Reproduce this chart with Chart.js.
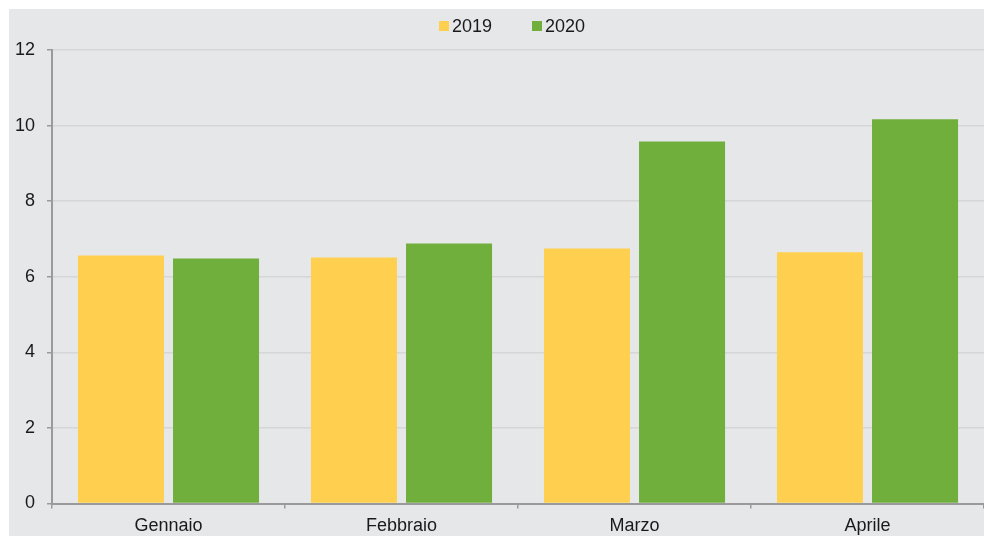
<!DOCTYPE html>
<html>
<head>
<meta charset="utf-8">
<script src="https://cdn.jsdelivr.net/npm/chart.js@4"></script>
<style>
  html, body { margin: 0; padding: 0; background: #ffffff; }
  #wrap { position: absolute; left: 9px; top: 9px; width: 975px; height: 527px; background: #e6e7e9; }
</style>
</head>
<body>
<div id="wrap"><canvas id="chart"></canvas></div>
<script>
// dati
const categories = ['Gennaio', 'Febbraio', 'Marzo', 'Aprile'];
const seriesLabels = ['2019', '2020'];
const values2019 = [6.56, 6.51, 6.75, 6.65];
const values2020 = [6.48, 6.88, 9.58, 10.17];
const yMin = 0;
const yMax = 12;
const yStep = 2;

const colors = ['#ffd04f', '#71af3d'];
const fontFamily = '"Liberation Sans", Arial, Helvetica, sans-serif';

// legenda disegnata in alto
const topLegend = {
  id: 'topLegend',
  afterDraw(chart) {
    const ctx = chart.ctx;
    ctx.save();
    ctx.font = '18px ' + fontFamily;
    ctx.textBaseline = 'middle';
    let x = 430;
    const y = 17;
    chart.data.datasets.forEach((ds) => {
      ctx.fillStyle = ds.backgroundColor;
      ctx.fillRect(x, y - 5, 10, 10);
      ctx.fillStyle = '#1a1a1a';
      ctx.fillText(ds.label, x + 13, y + 1);
      x += 93;
    });
    ctx.restore();
  }
};

new Chart(document.getElementById('chart'), {
  type: 'bar',
  data: {
    labels: categories,
    datasets: [
      { label: seriesLabels[0], data: values2019, backgroundColor: colors[0] },
      { label: seriesLabels[1], data: values2020, backgroundColor: colors[1] }
    ]
  },
  options: {
    responsive: true,
    maintainAspectRatio: false,
    animation: false,
    layout: { padding: { top: 41, right: 0, bottom: 0, left: 0 } },
    datasets: {
      bar: { categoryPercentage: 0.816, barPercentage: 0.905 }
    },
    plugins: {
      legend: { display: false },
      tooltip: { enabled: false }
    },
    scales: {
      x: {
        grid: { drawOnChartArea: false, drawTicks: true, tickLength: 5, color: '#9a9a9a', lineWidth: 1.5 },
        border: { color: '#9a9a9a', width: 2 },
        ticks: { color: '#1a1a1a', font: { family: fontFamily, size: 18 }, padding: 7 },
        afterFit(scale) { scale.height = 32.5; }
      },
      y: {
        min: yMin,
        max: yMax,
        ticks: { stepSize: yStep, color: '#1a1a1a', font: { family: fontFamily, size: 18 }, padding: 12 },
        grid: { color: '#d5d6d8', lineWidth: 1.5, tickLength: 5, tickColor: '#9a9a9a' },
        border: { color: '#9a9a9a', width: 2 },
        afterFit(scale) { scale.width = 43; }
      }
    }
  },
  plugins: [topLegend]
});
</script>
</body>
</html>
